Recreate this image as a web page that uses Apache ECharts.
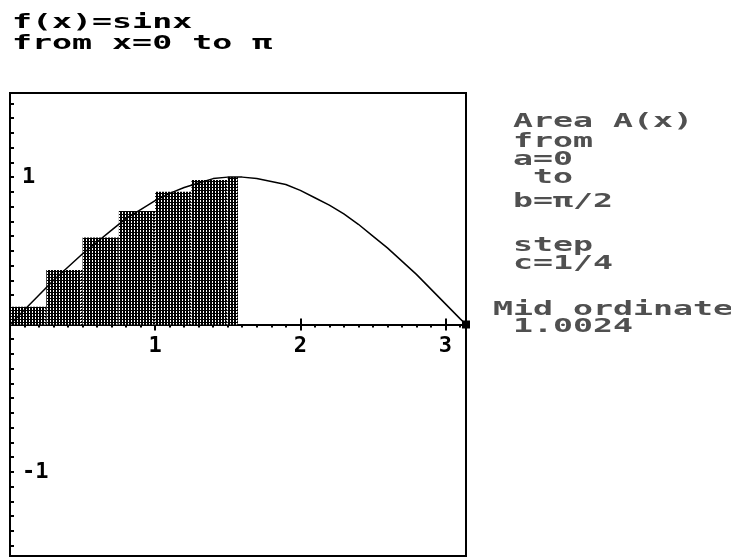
<!DOCTYPE html>
<html>
<head>
<meta charset="utf-8">
<title>f(x)=sinx mid ordinate</title>
<script src="https://cdn.jsdelivr.net/npm/echarts@6/dist/echarts.min.js"></script>
<style>
  html, body { margin: 0; padding: 0; background: #fff; }
  #chart { width: 731px; height: 559px; }
</style>
</head>
<body>
<div id="chart"></div>
<script>
// ---------------------------------------------------
// Data
// ---------------------------------------------------
const xMin = 0;
const xMax = 3.1416;     // pi
const yMin = -1.5708;    // -pi/2
const yMax = 1.5708;     // pi/2

// f(x) = sin x, sampled along the drawn curve
const curveX = [0, 0.1, 0.2, 0.3, 0.4, 0.5, 0.6, 0.7, 0.8, 0.9, 1.0, 1.1, 1.2, 1.3, 1.4, 1.5,
  1.6, 1.7, 1.8, 1.9, 2.0, 2.1, 2.2, 2.3, 2.4, 2.5, 2.6, 2.7, 2.8, 2.9, 3.0, 3.1, 3.1416];
const curveY = [0, 0.10, 0.20, 0.30, 0.39, 0.48, 0.56, 0.64, 0.72, 0.78, 0.84, 0.89, 0.93, 0.96, 0.99, 1.00,
  1.00, 0.99, 0.97, 0.95, 0.91, 0.86, 0.81, 0.75, 0.68, 0.60, 0.52, 0.43, 0.34, 0.24, 0.14, 0.04, 0];

// mid ordinate strips, step 1/4 from 0 to pi/2
const stripStart = [0, 0.25, 0.5, 0.75, 1.0, 1.25, 1.5];
const stripEnd = [0.25, 0.5, 0.75, 1.0, 1.25, 1.5, 1.5708];
const stripHeight = [0.12, 0.37, 0.59, 0.77, 0.90, 0.98, 1.00];

// tick labels
const xLabelValues = [1, 2, 3];
const yLabelValues = [-1, 1];
const tickStep = 0.1;

// side texts
const titleLines = ["f(x)=sinx", "from x=0 to \u03c0"];
const titleBaselines = [29, 50];
const infoLines = [
  " Area A(x)", " from", " a=0", "  to", " b=\u03c0/2",
  " step", " c=1/4", "Mid ordinate", " 1.0024"
];
const infoBaselines = [128, 148, 166, 184, 208, 252, 270, 316, 333];

// ---------------------------------------------------
// Helpers
// ---------------------------------------------------
function tickValues(from, to, step) {
  const out = [];
  const n = Math.round((to - from) / step);
  for (let i = 0; i <= n; i++) out.push(+(from + i * step).toFixed(4));
  return out;
}

const xMinorTicks = tickValues(0, 3.1, tickStep);
const yMinorTicks = tickValues(-1.5, 1.5, tickStep);

// dithered grey fill like the calculator screen
function makePattern() {
  const c = document.createElement("canvas");
  c.width = 3;
  c.height = 3;
  const ctx = c.getContext("2d");
  ctx.fillStyle = "#000";
  ctx.fillRect(0, 0, 3, 3);
  ctx.fillStyle = "#fff";
  ctx.fillRect(2, 0, 1, 1);
  ctx.fillRect(2, 2, 1, 1);
  return { image: c, repeat: "repeat" };
}
const stripFill = makePattern();

const MONO = "'DejaVu Sans Mono', monospace";
const PX = 20; // pixel grid width of one character

const GRID = { left: 10, top: 93, width: 456, height: 463 };
// distance of y=0 above the grid bottom
const zeroLift = GRID.height * (0 - yMin) / (yMax - yMin);

function xAxisLayer(opts) {
  return Object.assign({
    type: "value",
    gridIndex: 0,
    min: xMin,
    max: xMax,
    axisLine: { show: false, onZero: true },
    axisTick: { show: true, inside: false, length: 3, customValues: xMinorTicks,
      lineStyle: { color: "#000", width: 2 } },
    axisLabel: { show: false },
    splitLine: { show: false }
  }, opts);
}

function hiddenY() {
  return { type: "value", min: yMin, max: yMax, show: false, axisLine: { onZero: false } };
}

// ---------------------------------------------------
// Chart
// ---------------------------------------------------
const chart = echarts.init(document.getElementById("chart"), null, { renderer: "canvas" });

const titleGraphics = titleLines.map((t, i) => ({
  type: "text",
  x: 12,
  y: titleBaselines[i] - 6,
  scaleX: 1.75,
  style: { text: t, font: "bold 19px " + MONO, fill: "#000", verticalAlign: "middle" }
}));

const infoGraphics = infoLines.map((t, i) => ({
  type: "text",
  x: 493,
  y: infoBaselines[i] - 6,
  scaleX: PX / 12.04,
  style: { text: t, font: "bold 20px " + MONO, fill: "#505050", verticalAlign: "middle" }
}));

chart.setOption({
  animation: false,
  backgroundColor: "#fff",
  grid: Object.assign({
    outerBoundsMode: "none",
    containLabel: false,
    show: true, borderColor: "#000", borderWidth: 2, backgroundColor: "#fff"
  }, GRID),
  graphic: titleGraphics.concat(infoGraphics),
  xAxis: [
    // main axis: line and minor ticks below
    xAxisLayer({
      axisLine: { show: true, onZero: true, lineStyle: { color: "#000", width: 2 },
        symbol: ["none", "rect"], symbolSize: [8, 8] }
    }),
    // minor ticks above
    xAxisLayer({ axisTick: { show: true, inside: true, length: 3, customValues: xMinorTicks,
      lineStyle: { color: "#000", width: 2 } } }),
    // integer ticks below
    xAxisLayer({ axisTick: { show: true, inside: false, length: 6, customValues: xLabelValues,
      lineStyle: { color: "#000", width: 2 } } }),
    // integer ticks above
    xAxisLayer({ axisTick: { show: true, inside: true, length: 6, customValues: xLabelValues,
      lineStyle: { color: "#000", width: 2 } } }),
    // tick labels under the zero line
    xAxisLayer({
      position: "bottom",
      offset: -zeroLift,
      axisLine: { show: false, onZero: false },
      axisTick: { show: false },
      axisLabel: { show: true, customValues: xLabelValues, margin: 11, color: "#000",
        fontFamily: MONO, fontWeight: "bold", fontSize: 22 }
    })
  ],
  yAxis: [
    {
      type: "value",
      min: yMin,
      max: yMax,
      position: "left",
      axisLine: { show: false, onZero: false },
      axisTick: { show: true, inside: true, length: 4, customValues: yMinorTicks,
        lineStyle: { color: "#000", width: 2 } },
      axisLabel: { show: true, inside: true, margin: 12, customValues: yLabelValues,
        color: "#000", fontFamily: MONO, fontWeight: "bold", fontSize: 22 },
      splitLine: { show: false }
    },
    hiddenY(), hiddenY(), hiddenY()
  ],
  series: [
    {
      name: "Mid ordinate strips",
      type: "custom",
      xAxisIndex: 0,
      yAxisIndex: 0,
      data: stripStart.map((s, i) => [s, stripEnd[i], stripHeight[i]]),
      renderItem: (params, api) => {
        const top = api.coord([api.value(0), api.value(2)]);
        const bot = api.coord([api.value(1), 0]);
        return {
          type: "group",
          children: [
            {
              type: "rect",
              shape: { x: top[0], y: top[1], width: bot[0] - top[0], height: bot[1] - top[1] },
              style: { fill: stripFill }
            },
            {
              type: "line",
              shape: { x1: bot[0] - 1, y1: top[1] + 2, x2: bot[0] - 1, y2: bot[1] },
              style: { stroke: "#fff", lineWidth: 1, lineDash: [1, 2] }
            }
          ]
        };
      },
      z: 2
    },
    {
      name: "f(x)=sinx",
      type: "line",
      xAxisIndex: 0,
      yAxisIndex: 0,
      data: curveX.map((x, i) => [x, curveY[i]]),
      showSymbol: false,
      lineStyle: { color: "#000", width: 1.5 },
      z: 3
    }
  ]
});

window.addEventListener("resize", chart.resize);
</script>
</body>
</html>
